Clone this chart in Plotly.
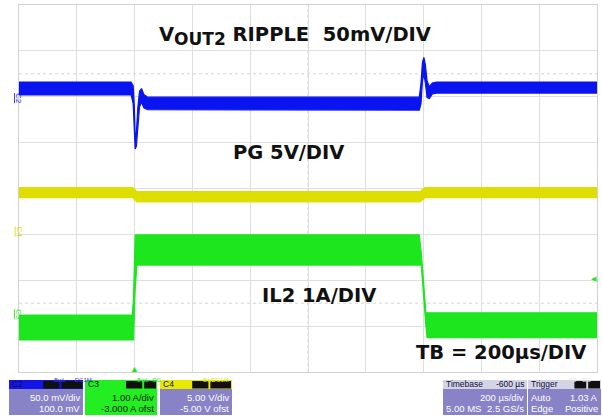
import plotly.graph_objects as go

# ---- data (time in µs relative to trigger, amplitude in screen divisions) ----
# C2 : VOUT2 ripple (blue) envelope
c2_t = [-400, -12, -5, -1, 2, 6, 11, 17, 24, 32, 45, 60, 985, 991, 996, 1001, 1006, 1012, 1020, 1030, 1045, 1600]
c2_hi = [2.32, 2.32, 2.24, 1.80, 1.15, 1.20, 1.75, 2.12, 2.18, 2.05, 1.99, 1.99, 1.99, 2.30, 2.75, 2.86, 2.70, 2.35, 2.22, 2.30, 2.32, 2.32]
c2_lo = [2.04, 2.04, 1.85, 1.20, 0.86, 0.92, 1.35, 1.78, 1.88, 1.76, 1.72, 1.71, 1.71, 1.85, 2.35, 2.50, 2.30, 1.98, 1.96, 2.06, 2.08, 2.08]

# C4 : PG (yellow) envelope
c4_t = [-400, -6, 8, 988, 1004, 1600]
c4_hi = [0.02, 0.02, -0.07, -0.07, 0.02, 0.02]
c4_lo = [-0.20, -0.20, -0.29, -0.29, -0.20, -0.20]

# C3 : IL2 (green) envelope
c3_t = [-400, -8, -4, 2, 8, 985, 992, 1008, 1012, 1600]
c3_hi = [-2.76, -2.76, -2.40, -1.01, -1.01, -1.01, -1.40, -2.71, -2.71, -2.71]
c3_lo = [-3.30, -3.30, -3.30, -2.20, -1.67, -1.67, -1.67, -3.00, -3.25, -3.25]

labels = {
    "title": "V<sub><span style='font-size:17px'>OUT2</span></sub> RIPPLE\u00a0\u00a050mV/DIV",
    "pg": "PG 5V/DIV",
    "il": "IL2 1A/DIV",
    "tb": "TB = 200µs/DIV",
}

BLUE = "#0a14f0"
YEL = "#dede00"
GRN = "#1ee61e"

fig = go.Figure()

def band(t, hi, lo, color):
    fig.add_trace(go.Scatter(
        x=t + t[::-1], y=hi + lo[::-1], mode="lines", fill="toself",
        fillcolor=color, line=dict(color=color, width=1.2),
        hoverinfo="skip", showlegend=False))

band(c4_t, c4_hi, c4_lo, YEL)
band(c3_t, c3_hi, c3_lo, GRN)
band(c2_t, c2_hi, c2_lo, BLUE)

# plot area geometry in pixels
L, R, T, B = 19, 597, 5, 372
def px(x):
    return (x - L) / (R - L)
def py(y):
    return (B - y) / (B - T)

shapes = []
# dotted reference rows
for yv in [2.5, 0, -2.5]:
    shapes.append(dict(type="line", xref="paper", x0=0, x1=1, yref="y", y0=yv, y1=yv,
                       line=dict(color="#d4d4d4", width=1, dash="dot"), layer="below"))
shapes.append(dict(type="line", yref="paper", y0=0, y1=1, xref="x", x0=600, x1=600,
                   line=dict(color="#d4d4d4", width=1, dash="dot"), layer="below"))

annotations = []
FONT_T = "DejaVu Sans"
TS = 19.5
annotations.append(dict(text="<b>" + labels["title"] + "</b>", xref="paper", yref="paper",
                        x=px(157), y=py(36), xanchor="left", yanchor="middle", showarrow=False,
                        font=dict(family=FONT_T, size=TS, color="#111")))
annotations.append(dict(text="<b>" + labels["pg"] + "</b>", xref="paper", yref="paper",
                        x=px(231), y=py(152), xanchor="left", yanchor="middle", showarrow=False,
                        font=dict(family=FONT_T, size=TS, color="#111")))
annotations.append(dict(text="<b>" + labels["il"] + "</b>", xref="paper", yref="paper",
                        x=px(260), y=py(295), xanchor="left", yanchor="middle", showarrow=False,
                        font=dict(family=FONT_T, size=TS, color="#111")))
annotations.append(dict(text="<b>" + labels["tb"] + "</b>", xref="paper", yref="paper",
                        x=px(414), y=py(352), xanchor="left", yanchor="middle", showarrow=False,
                        font=dict(family=FONT_T, size=TS, color="#111")))

# channel markers on the left
for name, ypix, col in [("C2", 91, BLUE), ("C4", 232, "#d8d800"), ("C3", 322, GRN)]:
    annotations.append(dict(text="<u>" + name + "</u>", xref="paper", yref="paper",
                            x=px(12), y=py(ypix), showarrow=False, textangle=90,
                            font=dict(family="Liberation Sans", size=8, color=col)))

# trigger markers
annotations.append(dict(text="▲", xref="x", yref="paper", x=0, y=py(377), showarrow=False,
                        font=dict(size=9, color=GRN)))
annotations.append(dict(text="◀", xref="paper", yref="y", x=px(599), y=-1.97, showarrow=False,
                        font=dict(size=7, color=GRN)))

# ---- info boxes along the bottom ----
LAV = "#8783c6"
F = "Liberation Sans"
def box(x0, x1, head_col, body_col, head_left, head_right_badges, lines, txt_col="white",
        head_txt="#101040", badge_txt="#303080", head_right_text=None):
    y0, yh, y1 = 380, 389, 415
    shapes.append(dict(type="rect", xref="paper", yref="paper", x0=px(x0), x1=px(x1),
                       y0=py(y1), y1=py(yh), fillcolor=body_col, line=dict(width=0)))
    shapes.append(dict(type="rect", xref="paper", yref="paper", x0=px(x0), x1=px(x1),
                       y0=py(yh), y1=py(y0), fillcolor=head_col, line=dict(width=0)))
    annotations.append(dict(text=head_left, xref="paper", yref="paper", x=px(x0 + 2), y=py(384.5),
                            xanchor="left", yanchor="middle", showarrow=False, borderpad=0,
                            font=dict(family=F, size=8.5, color=head_txt)))
    if head_right_text:
        annotations.append(dict(text=head_right_text, xref="paper", yref="paper", x=px(x1 - 1), y=py(384.5),
                                xanchor="right", yanchor="middle", showarrow=False, borderpad=0,
                                font=dict(family=F, size=8.5, color=head_txt)))
    xr = x1 - 1
    for b in reversed(head_right_badges):
        w = 4.4 * len(b) + 3
        shapes.append(dict(type="rect", xref="paper", yref="paper", x0=px(xr - w), x1=px(xr),
                           y0=py(388.5), y1=py(381), fillcolor="#101010", line=dict(width=0)))
        annotations.append(dict(text=b, xref="paper", yref="paper", x=px(xr - w / 2), y=py(384.7),
                                showarrow=False, borderpad=0, width=w, height=8,
                                font=dict(family=F, size=6, color=badge_txt)))
        xr -= w + 2
    for i, (lt, rt) in enumerate(lines):
        yy = py(397.5 + i * 11)
        if lt:
            annotations.append(dict(text=lt, xref="paper", yref="paper", x=px(x0 + 2), y=yy,
                                    xanchor="left", yanchor="middle", showarrow=False, borderpad=0,
                                    font=dict(family=F, size=9.5, color=txt_col)))
        if rt:
            annotations.append(dict(text=rt, xref="paper", yref="paper", x=px(x1 - 2), y=yy,
                                    xanchor="right", yanchor="middle", showarrow=False, borderpad=0,
                                    font=dict(family=F, size=9.5, color=txt_col)))

box(9, 83, "#1414e6", LAV, "C2", ["BwL", "DC1M"], [("", "50.0 mV/div"), ("", "100.0 mV")],
    badge_txt="#3a3ad8")
box(85, 157, "#22ee22", "#22ee22", "C3", ["BwL", "DC"], [("", "1.00 A/div"), ("", "-3.000 A ofst")],
    txt_col="#102010", badge_txt="#22ee22")
box(160, 232, "#e8e800", LAV, "C4", ["BwL", "DC1M"], [("", "5.00 V/div"), ("", "-5.00 V ofst")],
    badge_txt="#e8e800")
box(443, 527, "#d4d4e4", LAV, "Timebase", [], [("", "200 µs/div"), ("5.00 MS", "2.5 GS/s")],
    head_right_text="-600 µs")
box(528, 601, "#d4d4e4", LAV, "Trigger", ["C3", "DC"], [("Auto", "1.03 A"), ("Edge", "Positive")],
    badge_txt="#e0e0e0")

fig.update_layout(
    width=602, height=417,
    margin=dict(l=L, r=602 - R, t=T, b=417 - B),
    paper_bgcolor="white", plot_bgcolor="white",
    showlegend=False,
    shapes=shapes, annotations=annotations,
    xaxis=dict(range=[-400, 1600], dtick=200, tick0=-400, showgrid=True, gridcolor="#dedede",
               gridwidth=1, zeroline=False, showticklabels=False, ticks="",
               showline=True, mirror=True, linecolor="#d0d0d0", fixedrange=True),
    yaxis=dict(range=[-4, 4], dtick=1, tick0=-4, showgrid=True, gridcolor="#dedede",
               gridwidth=1, zeroline=False, showticklabels=False, ticks="",
               showline=True, mirror=True, linecolor="#d0d0d0", fixedrange=True),
)

fig.write_html("out.html", config={"displayModeBar": False},
               post_script="document.body.style.margin='0';document.body.style.overflow='hidden';")
